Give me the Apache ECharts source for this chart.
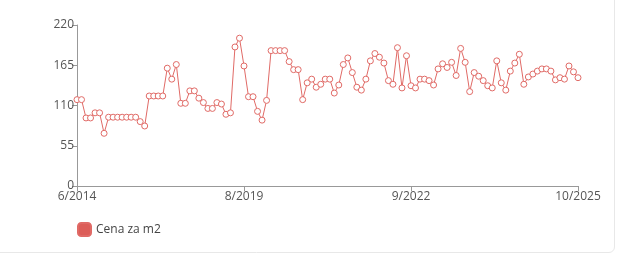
<!DOCTYPE html>
<html><head><meta charset="utf-8">
<script src="https://cdn.jsdelivr.net/npm/echarts@6/dist/echarts.min.js"></script>
<style>
html,body{margin:0;padding:0;background:#fff;}
#wrap{position:absolute;left:-6px;top:-6px;width:621px;height:259px;border:1px solid #e8e8e8;border-radius:6px;box-sizing:border-box;}
#c{position:absolute;left:0;top:0;width:620px;height:254px;}
</style></head>
<body>
<div id="wrap"></div>
<div id="c"></div>
<script>
const seriesName = 'Cena za m2';
const tickLabels = ['6/2014', '8/2019', '9/2022', '10/2025'];
const labelEvery = 37;
const values = [
  118, 118, 93, 93, 100, 100, 72, 94, 94, 94,
  94, 94, 94, 94, 88, 82, 123, 123, 123, 123,
  161, 146, 166, 113, 113, 130, 130, 120, 114, 106,
  106, 114, 112, 98, 100, 190, 202, 164, 122, 122,
  102, 90, 117, 185, 185, 185, 185, 170, 159, 159,
  118, 141, 146, 135, 139, 146, 146, 127, 138, 166,
  175, 155, 135, 131, 146, 171, 181, 176, 168, 144,
  139, 189, 134, 178, 137, 134, 146, 146, 144, 138,
  160, 167, 162, 169, 151, 188, 169, 129, 155, 150,
  144, 137, 134, 171, 141, 131, 157, 168, 180, 139,
  149, 153, 157, 160, 160, 157, 145, 148, 146, 164,
  156, 148
];
const yTicks = [0, 55, 110, 165, 220];

const categories = values.map((_, i) => (i % labelEvery === 0 ? tickLabels[i / labelEvery] : String(i)));

const chart = echarts.init(document.getElementById('c'), null, {renderer: 'canvas'});
chart.setOption({
  animation: false,
  grid: {left: 77, right: 42, top: 25, bottom: 68},
  legend: {
    left: 72, top: 217,
    itemWidth: 13, itemHeight: 13, icon: 'roundRect', itemGap: 8,
    textStyle: {color: '#444', fontSize: 12, fontFamily: 'Open Sans'},
    data: [{name: seriesName, itemStyle: {color: '#dc5d58'}}]
  },
  xAxis: {
    type: 'category',
    data: categories,
    boundaryGap: false,
    axisLine: {lineStyle: {color: '#999', width: 1}},
    axisTick: {interval: labelEvery - 1, length: 5, lineStyle: {color: '#999'}},
    axisLabel: {interval: labelEvery - 1, color: '#555', fontSize: 12, fontFamily: 'Open Sans', margin: 5},
    splitLine: {show: false}
  },
  yAxis: {
    type: 'value',
    min: yTicks[0], max: yTicks[yTicks.length - 1], interval: yTicks[1] - yTicks[0],
    axisLine: {show: true, lineStyle: {color: '#999', width: 1}},
    axisTick: {show: true, length: 5, lineStyle: {color: '#999'}},
    axisLabel: {color: '#555', fontSize: 12, fontFamily: 'Open Sans', margin: 3},
    splitLine: {show: false}
  },
  series: [{
    name: seriesName,
    type: 'line',
    data: values,
    showSymbol: true,
    showAllSymbol: true,
    symbol: 'circle',
    symbolSize: 6,
    lineStyle: {width: 1, color: '#e06a66'},
    itemStyle: {color: '#ffffff', borderColor: '#e06a66', borderWidth: 1},
    emphasis: {disabled: true}
  }]
});
</script>
</body></html>
